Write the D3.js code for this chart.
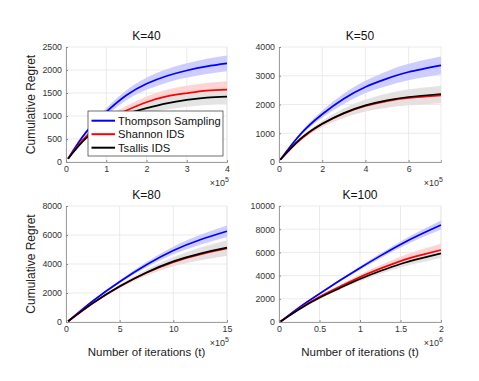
<!DOCTYPE html>
<html>
<head>
<meta charset="utf-8">
<script src="https://cdn.jsdelivr.net/npm/d3@7"></script>
<style>
  body { margin: 0; background: #fff; }
  svg { font-family: "Liberation Sans", Arial, sans-serif; }
</style>
</head>
<body>
<svg id="chart" width="479" height="381"></svg>
<script>
// series names and colours
const seriesNames = ['Thompson Sampling', 'Shannon IDS', 'Tsallis IDS'];
const seriesColors = ['#0000ff', '#ff0000', '#000000'];
const bandColors = ['#c9c9ff', '#ffd0d0', '#e2e2e2'];

// K=40, t in units of 1e5
const k40X = [0.05, 0.5, 1, 1.5, 2, 2.5, 3, 3.5, 4];
const k40Ts = [70, 650, 1090, 1450, 1700, 1870, 1990, 2080, 2145];
const k40TsErr = [0, 40, 80, 110, 130, 145, 155, 165, 170];
const k40Sh = [70, 560, 900, 1120, 1300, 1425, 1495, 1550, 1575];
const k40ShErr = [0, 35, 70, 100, 125, 145, 160, 170, 180];
const k40Tsa = [70, 520, 830, 1040, 1170, 1275, 1350, 1400, 1420];
const k40TsaErr = [0, 30, 60, 90, 115, 135, 150, 160, 170];

// K=50, t in units of 1e5
const k50X = [0.06, 1, 2, 3, 4, 5, 6, 7.5];
const k50Ts = [80, 970, 1660, 2200, 2610, 2900, 3130, 3360];
const k50TsErr = [0, 60, 120, 180, 220, 260, 290, 310];
const k50Sh = [80, 790, 1320, 1690, 1950, 2120, 2230, 2320];
const k50ShErr = [0, 50, 100, 150, 190, 230, 260, 280];
const k50Tsa = [80, 810, 1330, 1700, 1970, 2145, 2260, 2365];
const k50TsaErr = [0, 50, 100, 160, 200, 240, 270, 290];

// K=80, t in units of 1e5
const k80X = [0.2, 2.5, 5, 7.5, 10, 12.5, 15];
const k80Ts = [50, 1450, 2780, 3950, 4930, 5670, 6260];
const k80TsErr = [0, 50, 100, 180, 260, 340, 400];
const k80Sh = [50, 1290, 2440, 3390, 4130, 4660, 5070];
const k80ShErr = [0, 50, 100, 180, 280, 400, 500];
const k80Tsa = [50, 1300, 2460, 3420, 4180, 4720, 5125];
const k80TsaErr = [0, 50, 110, 200, 300, 420, 520];

// K=100, t in units of 1e6
const k100X = [0.02, 0.25, 0.5, 0.75, 1, 1.25, 1.5, 1.75, 2];
const k100Ts = [40, 1260, 2440, 3570, 4660, 5700, 6690, 7570, 8370];
const k100TsErr = [0, 40, 70, 110, 150, 200, 260, 320, 390];
const k100Sh = [40, 1130, 2170, 3040, 3870, 4600, 5250, 5760, 6210];
const k100ShErr = [0, 40, 80, 150, 220, 300, 380, 460, 540];
const k100Tsa = [40, 1100, 2090, 2920, 3700, 4390, 5000, 5480, 5920];
const k100TsaErr = [0, 40, 80, 130, 190, 250, 300, 350, 400];

// tick values
const k40XTicks = [0, 1, 2, 3, 4];
const k40YTicks = [0, 500, 1000, 1500, 2000, 2500];
const k50XTicks = [0, 2, 4, 6];
const k50YTicks = [0, 1000, 2000, 3000, 4000];
const k80XTicks = [0, 5, 10, 15];
const k80YTicks = [0, 2000, 4000, 6000, 8000];
const k100XTicks = [0, 0.5, 1, 1.5, 2];
const k100YTicks = [0, 2000, 4000, 6000, 8000, 10000];

const panels = [
  { title: 'K=40', x: k40X, ys: [k40Ts, k40Sh, k40Tsa], errs: [k40TsErr, k40ShErr, k40TsaErr],
    xMax: 4, yMax: 2500, xTicks: k40XTicks, yTicks: k40YTicks, exp: '5',
    box: [66, 227, 47, 162], ylabel: true, xlabel: false, legend: true },
  { title: 'K=50', x: k50X, ys: [k50Ts, k50Sh, k50Tsa], errs: [k50TsErr, k50ShErr, k50TsaErr],
    xMax: 7.5, yMax: 4000, xTicks: k50XTicks, yTicks: k50YTicks, exp: '5',
    box: [279, 441, 47, 162], ylabel: false, xlabel: false, legend: false },
  { title: 'K=80', x: k80X, ys: [k80Ts, k80Sh, k80Tsa], errs: [k80TsErr, k80ShErr, k80TsaErr],
    xMax: 15, yMax: 8000, xTicks: k80XTicks, yTicks: k80YTicks, exp: '5',
    box: [66, 227, 206, 322], ylabel: true, xlabel: true, legend: false },
  { title: 'K=100', x: k100X, ys: [k100Ts, k100Sh, k100Tsa], errs: [k100TsErr, k100ShErr, k100TsaErr],
    xMax: 2, yMax: 10000, xTicks: k100XTicks, yTicks: k100YTicks, exp: '6',
    box: [279, 441, 206, 322], ylabel: false, xlabel: true, legend: false }
];

const svg = d3.select('#chart');

panels.forEach(p => {
  const [l, r, t, b] = p.box;
  const x = d3.scaleLinear().domain([0, p.xMax]).range([l, r]);
  const y = d3.scaleLinear().domain([0, p.yMax]).range([b, t]);
  const g = svg.append('g');

  // grid
  g.selectAll('.vgrid').data(p.xTicks.concat([p.xMax])).enter().append('line')
    .attr('x1', d => x(d)).attr('x2', d => x(d)).attr('y1', t).attr('y2', b)
    .attr('stroke', '#e6e6e6').attr('stroke-width', 0.8);
  g.selectAll('.hgrid').data(p.yTicks).enter().append('line')
    .attr('x1', l).attr('x2', r).attr('y1', d => y(d)).attr('y2', d => y(d))
    .attr('stroke', '#e6e6e6').attr('stroke-width', 0.8);

  // bands (shaded error regions)
  p.ys.forEach((ys, i) => {
    const pts = p.x.map((xv, j) => ({ x: xv, lo: ys[j] - p.errs[i][j], hi: ys[j] + p.errs[i][j] }));
    g.append('path')
      .datum(pts)
      .attr('d', d3.area().curve(d3.curveNatural)
        .x(d => x(d.x)).y0(d => y(d.lo)).y1(d => y(d.hi)))
      .attr('fill', bandColors[i]).attr('fill-opacity', 0.92);
  });

  // mean lines
  p.ys.forEach((ys, i) => {
    const pts = p.x.map((xv, j) => ({ x: xv, y: ys[j] }));
    g.append('path')
      .datum(pts)
      .attr('d', d3.line().curve(d3.curveNatural).x(d => x(d.x)).y(d => y(d.y)))
      .attr('fill', 'none').attr('stroke', seriesColors[i]).attr('stroke-width', 1.7);
  });

  // axes
  const xAxis = g.append('g').attr('transform', `translate(0,${b})`)
    .call(d3.axisBottom(x).tickValues(p.xTicks).tickSize(-2).tickPadding(4).tickFormat(d3.format('~g')));
  const yAxis = g.append('g').attr('transform', `translate(${l},0)`)
    .call(d3.axisLeft(y).tickValues(p.yTicks).tickSize(-2).tickPadding(4).tickFormat(d3.format('d')));
  [xAxis, yAxis].forEach(a => {
    a.select('.domain').attr('stroke', '#8a8a8a').attr('stroke-width', 0.8);
    a.selectAll('.tick line').attr('stroke', '#8a8a8a');
    a.selectAll('.tick text').attr('fill', '#333')
      .style('font-family', '"Liberation Sans", Arial, sans-serif').style('font-size', '8.8px');
  });

  // exponent label
  const ex = g.append('text').attr('x', r + 2).attr('y', b + 24)
    .attr('text-anchor', 'end').attr('fill', '#333').style('font-size', '9px');
  ex.append('tspan').text('\u00d710');
  ex.append('tspan').attr('dy', -4).style('font-size', '7px').text(p.exp);

  // title
  g.append('text').attr('x', (l + r) / 2).attr('y', t - 7)
    .attr('text-anchor', 'middle').attr('fill', '#111').style('font-size', '12px').text(p.title);

  if (p.ylabel) {
    g.append('text').attr('transform', `translate(34.5,${(t + b) / 2}) rotate(-90)`)
      .attr('text-anchor', 'middle').attr('fill', '#222').style('font-size', '12px').text('Cumulative Regret');
  }
  if (p.xlabel) {
    g.append('text').attr('x', (l + r) / 2).attr('y', b + 34)
      .attr('text-anchor', 'middle').attr('fill', '#222').style('font-size', '11.5px').text('Number of iterations (t)');
  }

  if (p.legend) {
    const lg = g.append('g');
    lg.append('rect').attr('x', 88).attr('y', 111).attr('width', 135).attr('height', 45)
      .attr('fill', '#fff').attr('stroke', '#333').attr('stroke-width', 0.7);
    seriesNames.forEach((name, i) => {
      const yy = 120.7 + i * 13.5;
      lg.append('line').attr('x1', 91.5).attr('x2', 115).attr('y1', yy).attr('y2', yy)
        .attr('stroke', seriesColors[i]).attr('stroke-width', 2);
      lg.append('text').attr('x', 118).attr('y', yy + 4).attr('fill', '#111')
        .style('font-size', '11.2px').text(name);
    });
  }
});
</script>
</body>
</html>
